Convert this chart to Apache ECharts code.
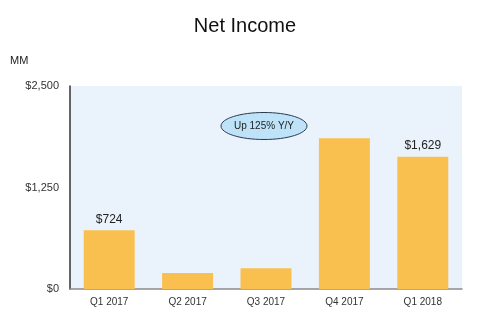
<!DOCTYPE html>
<html><head><meta charset="utf-8">
<script src="https://cdn.jsdelivr.net/npm/echarts@6/dist/echarts.min.js"></script>
<style>html,body{margin:0;padding:0;background:#fff}#c{width:490px;height:326px}</style>
</head><body><div id="c"></div>
<script>
const categories = ['Q1 2017','Q2 2017','Q3 2017','Q4 2017','Q1 2018'];
const netIncome = [724, 197, 256, 1856, 1629];
const labelledBars = [0, 4];
const yTicks = [0, 1250, 2500];
const annotation = 'Up 125% Y/Y';

const chart = echarts.init(document.getElementById('c'));
const fmt = v => '$' + v.toLocaleString('en-US');
chart.setOption({
  animation: false,
  textStyle: {fontFamily: 'Liberation Sans, Arial, sans-serif'},
  title: {text: 'Net Income', left: 'center', top: 11,
    textStyle: {fontSize: 20, fontWeight: 'normal', color: '#111', fontFamily: 'Liberation Sans, Arial, sans-serif'}},
  grid: {left: 70, right: 28, top: 86, bottom: 37, show: true, backgroundColor: '#EAF3FC', borderWidth: 0},
  xAxis: {type: 'category', data: categories,
    axisLine: {lineStyle: {color: '#8a8a8a', width: 1.5}},
    axisTick: {alignWithLabel: true, length: 3, lineStyle: {color: '#bbb'}},
    axisLabel: {color: '#333', fontSize: 10, margin: 8}},
  yAxis: {type: 'value', min: 0, max: 2500, interval: 1250,
    splitLine: {show: false},
    axisLine: {show: true, lineStyle: {color: '#333', width: 1.5}},
    axisTick: {show: false},
    axisLabel: {color: '#333', fontSize: 11, margin: 11, formatter: v => fmt(v)}},
  graphic: [
    {type: 'text', left: 10, top: 55, style: {text: 'MM', fontSize: 11, fill: '#222', fontFamily: 'Liberation Sans, Arial, sans-serif'}},
    {type: 'ellipse', shape: {cx: 264, cy: 126, rx: 43, ry: 13.5},
      style: {fill: '#BEE3F8', stroke: '#2b3a50', lineWidth: 1}, z: 10},
    {type: 'text', x: 264, y: 126, z: 11,
      style: {text: annotation, fontSize: 10, fill: '#222', align: 'center', verticalAlign: 'middle', fontFamily: 'Liberation Sans, Arial, sans-serif'}}
  ],
  series: [{type: 'bar', barWidth: '65%',
    itemStyle: {color: '#F9BF4F'},
    data: netIncome.map((v, i) => ({value: v,
      label: {show: labelledBars.includes(i), position: 'top', distance: 5, formatter: p => fmt(p.value), fontSize: 12, color: '#222'}}))
  }]
});
</script></body></html>
